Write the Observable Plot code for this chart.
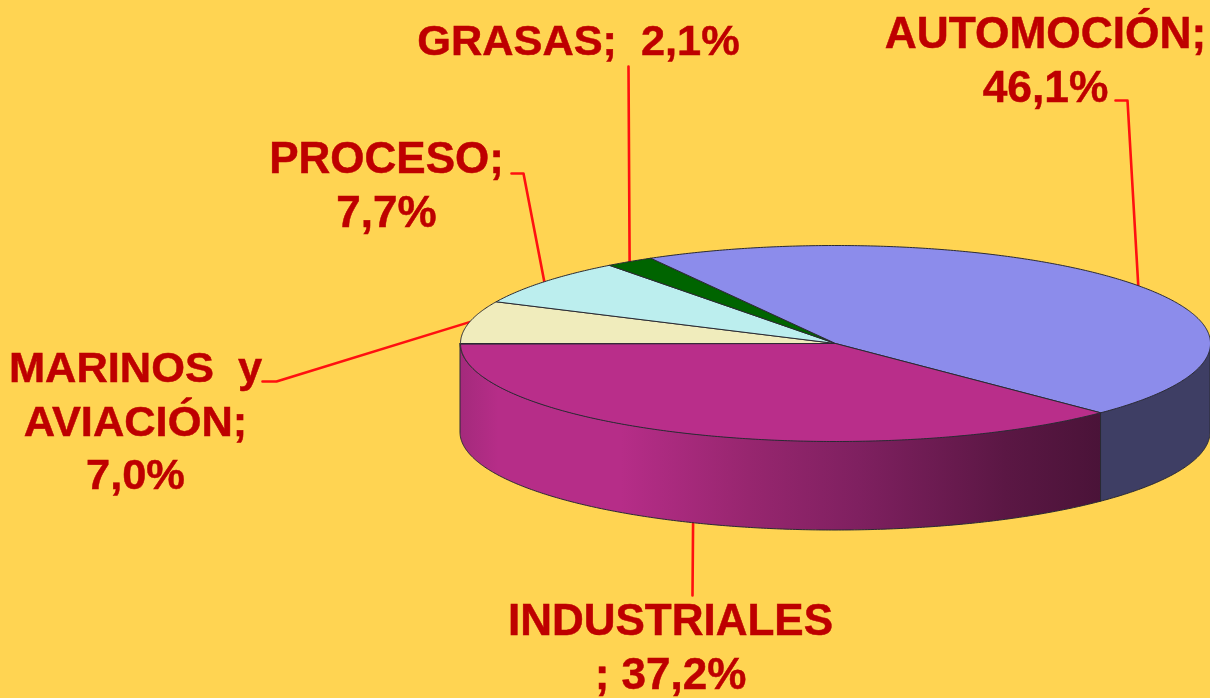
<!DOCTYPE html>
<html lang="es">
<head>
<meta charset="utf-8">
<script src="https://cdn.jsdelivr.net/npm/d3@7"></script>
<script src="https://cdn.jsdelivr.net/npm/@observablehq/plot@0.6"></script>
<style>
html,body{margin:0;padding:0;background:#FFD452;overflow:hidden}
svg{display:block}
svg g[aria-label="text"]{filter:blur(0.45px);stroke:#BE0000;stroke-width:0.5px}
</style>
</head>
<body>
<script>
// Data, clockwise from the 9 o'clock position.
// Sector sizes as measured on the picture; the printed figures are in labels.
const categories = ["MARINOS y", "PROCESO", "GRASAS", "AUTOMOCIÓN", "INDUSTRIALES"];
const shares = [7.0, 7.7, 2.1, 45.7, 37.4];
const labels = [
  "MARINOS  y\nAVIACIÓN;\n7,0%",
  "PROCESO;\n7,7%",
  "GRASAS;  2,1%",
  "AUTOMOCIÓN;\n46,1%",
  "INDUSTRIALES\n; 37,2%"
];
const topColors = ["#F0ECBC", "#BCEEEE", "#006400", "#8C8CEB", "#B92E8A"];

// Presentation settings (pixels)
const W = 1210, H = 698;
const pie = {left: 460, right: 1210, top: 245, bottom: 441, depth: 89, startDeg: 270};
const labelCenterX = [135, 386, 578, 1045, 670];
const labelTopY = [344, 134, 17, 9, 596.5];
const labelSize = [43.4, 44, 43.3, 44.3, 44];
const leaderStart = [[262, 381], [511, 173], [628, 66], [1115, 100], [692, 595]];
const leaderElbow = [[276, 381], [523, 173], null, [1127, 100], null];
const leaderAngleShift = [0, 0, 0, 1.1, 0];

// Pixel to unit-pie conversion: the tilt of the pie lives in the x/y scales
const cx = (pie.left + pie.right) / 2, rx = (pie.right - pie.left) / 2;
const cy = (pie.top + pie.bottom) / 2, ry = (pie.bottom - pie.top) / 2;
const ux = (px) => (px - cx) / rx, uy = (py) => (cy - py) / ry;
const depth = pie.depth / ry;
const rad = (d) => d * Math.PI / 180;
const pt = (d) => ({x: Math.sin(rad(d)), y: Math.cos(rad(d))});

// Slice angles from the shares
let cursor = pie.startDeg;
const slices = categories.map((name, i) => {
  const a0 = cursor, a1 = cursor + shares[i] * 3.6;
  cursor = a1;
  return {name, a0, a1, mid: (a0 + a1) / 2};
});

const topPts = slices.flatMap((s) => {
  const n = Math.max(2, Math.ceil((s.a1 - s.a0) * 2));
  const arc = d3.range(n + 1).map((k) => pt(s.a0 + (s.a1 - s.a0) * k / n));
  return [{x: 0, y: 0}, ...arc, {x: 0, y: 0}].map((p) => ({...p, name: s.name}));
});

function wall(d0, d1) {
  const n = Math.ceil(Math.abs(d1 - d0) * 2);
  return d3.range(n + 1).map((k) => {
    const p = pt(d0 + (d1 - d0) * k / n);
    return {x: p.x, y1: p.y, y2: p.y - depth};
  });
}
const autoEnd = slices[3].a1 % 360;
const wallBlue = wall(90, autoEnd);
const wallMagenta = wall(autoEnd, 270);

// Leaders end on the rim of their slice
const leaders = slices.flatMap((s, i) => {
  const end = pt((s.mid + leaderAngleShift[i]) % 360);
  if (s.name === "INDUSTRIALES") end.y -= depth;
  const pts = [leaderStart[i], leaderElbow[i]].filter(Boolean).map(([a, b]) => ({x: ux(a), y: uy(b)}));
  return [...pts, end].map((p) => ({...p, name: s.name}));
});
const labelRows = labels.map((text, i) => ({text, size: labelSize[i], x: ux(labelCenterX[i]), y: uy(labelTopY[i])}));

const chart = Plot.plot({
  width: W, height: H,
  margin: 0,
  style: {background: "#FFD452", overflow: "hidden"},
  x: {domain: [-1, 1], range: [pie.left, pie.right], axis: null},
  y: {domain: [1, -1], range: [pie.top, pie.bottom], axis: null},
  color: {domain: categories, range: topColors, legend: false},
  marks: [
    () => {
      const svgNS = "http://www.w3.org/2000/svg";
      const defs = document.createElementNS(svgNS, "defs");
      const mk = (id, x1, x2, stops) => {
        const g = document.createElementNS(svgNS, "linearGradient");
        g.setAttribute("id", id);
        g.setAttribute("gradientUnits", "userSpaceOnUse");
        g.setAttribute("x1", x1); g.setAttribute("x2", x2);
        g.setAttribute("y1", 0); g.setAttribute("y2", 0);
        stops.forEach(([o, c]) => {
          const s = document.createElementNS(svgNS, "stop");
          s.setAttribute("offset", o); s.setAttribute("stop-color", c);
          g.appendChild(s);
        });
        defs.appendChild(g);
      };
      mk("wallM", 460, 1102, [[0, "#A42A7C"], [0.06, "#B62D88"], [0.25, "#B62D88"], [0.45, "#97266F"], [0.62, "#7F2060"], [0.85, "#5B1744"], [1, "#4A1338"]]);
      mk("wallB", 1102, 1210, [[0, "#3E3E64"], [1, "#3E3E64"]]);
      return defs;
    },
    Plot.line(leaders, {x: "x", y: "y", z: "name", stroke: "#FF1010", strokeWidth: 2.6, curve: "linear"}),
    Plot.areaY(wallBlue, {x: "x", y1: "y1", y2: "y2", fill: "url(#wallB)", stroke: "#2a2a33", strokeWidth: 1}),
    Plot.areaY(wallMagenta, {x: "x", y1: "y1", y2: "y2", fill: "url(#wallM)", stroke: "#2a2a33", strokeWidth: 1}),
    Plot.line(topPts, {x: "x", y: "y", z: "name", fill: "name", stroke: "#2a2a33", strokeWidth: 1, curve: "linear"}),
    Plot.text(labelRows, {
      x: "x", y: "y", text: "text",
      fill: "#BE0000", fontFamily: "Liberation Sans, Arial, sans-serif",
      fontWeight: "bold", fontSize: "size", lineHeight: 1.227,
      lineAnchor: "top", textAnchor: "middle"
    })
  ]
});
document.body.appendChild(chart);
</script>
</body>
</html>
